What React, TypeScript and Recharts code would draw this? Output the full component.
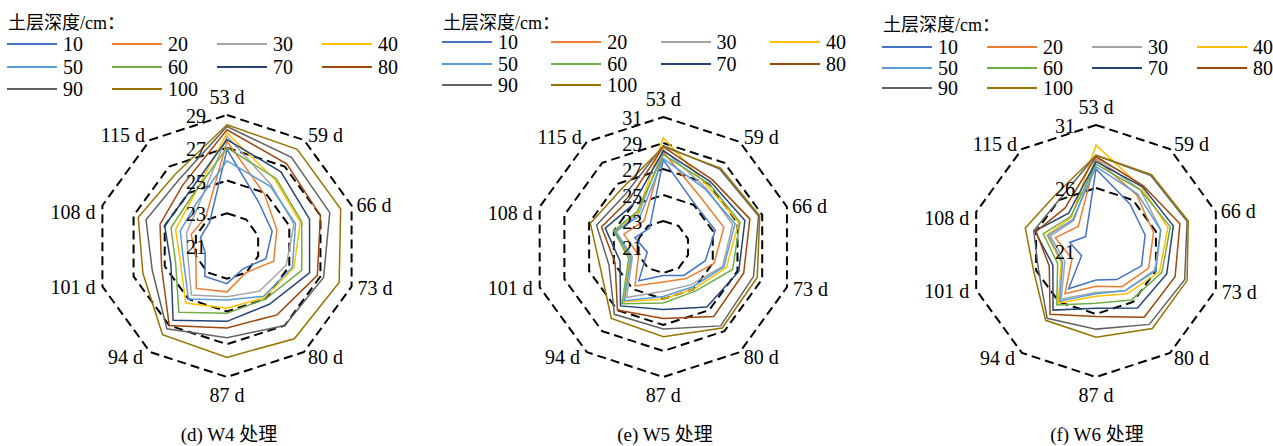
import React from 'react';
import { RadarChart, Radar, PolarGrid, PolarAngleAxis, PolarRadiusAxis } from 'recharts';

const FONT = "'Liberation Serif', 'Times New Roman', 'Noto Sans CJK SC', serif";

const days = ['53 d', '59 d', '66 d', '73 d', '80 d', '87 d', '94 d', '101 d', '108 d', '115 d'];
const depths = ['10', '20', '30', '40', '50', '60', '70', '80', '90', '100'];
const colors = ['#4472C4', '#ED7D31', '#A5A5A5', '#FFC000', '#5B9BD5', '#70AD47', '#264478', '#9E480E', '#636363', '#997300'];
const legendTitle = '土层深度/cm：';

// W4 treatment, rows = depth 10..100, cols = days
const w4Values = [
  [26.9, 24.3, 23.9, 23.5, 22.7, 23.3, 23.3, 22.4, 22.7, 22.8],
  [27.4, 24.9, 24.2, 24.0, 23.0, 23.8, 24.2, 23.0, 23.3, 23.2],
  [27.7, 25.6, 25.3, 24.8, 24.4, 24.1, 24.7, 23.5, 23.6, 24.0],
  [27.9, 26.0, 25.7, 25.3, 24.9, 24.8, 25.3, 24.0, 24.3, 24.6],
  [26.2, 25.5, 25.4, 25.2, 24.8, 24.3, 25.0, 23.8, 24.0, 24.2],
  [27.0, 26.1, 25.8, 25.8, 25.0, 25.1, 26.0, 24.3, 24.6, 24.7],
  [27.5, 26.6, 26.3, 26.3, 25.4, 25.6, 26.6, 24.6, 25.0, 25.0],
  [28.1, 27.2, 27.0, 26.8, 26.2, 26.0, 27.0, 25.2, 25.3, 25.6],
  [28.3, 27.7, 27.6, 27.2, 27.0, 26.6, 27.25, 25.8, 26.2, 26.0],
  [28.4, 28.3, 28.3, 28.2, 28.0, 27.8, 27.7, 26.4, 26.7, 26.4],
];

// W5 treatment
const w5Values = [
  [27.7, 25.1, 25.2, 24.4, 23.7, 23.2, 24.2, 22.3, 23.3, 22.8],
  [28.3, 25.8, 25.9, 25.1, 24.0, 23.7, 24.7, 23.0, 24.2, 23.5],
  [28.5, 26.6, 26.6, 25.8, 24.6, 24.4, 25.8, 23.5, 24.8, 24.2],
  [29.4, 26.8, 27.1, 26.1, 25.0, 25.0, 26.2, 23.7, 25.0, 24.3],
  [27.8, 26.5, 26.8, 25.9, 24.8, 24.8, 26.1, 23.6, 24.9, 24.0],
  [28.1, 27.0, 27.2, 26.6, 25.2, 25.3, 26.4, 23.8, 25.0, 24.4],
  [28.4, 27.2, 27.6, 27.1, 26.7, 25.8, 26.6, 24.5, 25.7, 25.0],
  [28.7, 27.4, 28.0, 27.5, 27.6, 26.5, 27.0, 24.9, 26.0, 25.5],
  [28.8, 28.4, 28.7, 28.3, 28.5, 27.3, 27.4, 25.4, 26.4, 26.0],
  [28.7, 28.5, 28.8, 28.6, 28.7, 27.9, 27.8, 26.1, 26.9, 26.5],
];

// W6 treatment
const w6Values = [
  [27.5, 25.6, 25.1, 24.8, 23.8, 23.3, 24.7, 22.2, 23.2, 22.4],
  [28.3, 26.5, 25.8, 25.4, 24.5, 23.8, 25.2, 23.0, 24.4, 23.4],
  [28.4, 27.0, 26.4, 25.9, 24.9, 24.3, 25.7, 23.6, 24.8, 24.0],
  [29.4, 27.2, 27.0, 26.3, 25.2, 24.6, 26.1, 23.9, 25.1, 24.3],
  [27.7, 26.6, 26.4, 26.0, 24.9, 24.4, 25.9, 23.8, 25.0, 24.1],
  [27.9, 27.0, 27.2, 26.5, 25.8, 25.15, 26.3, 24.2, 25.4, 24.4],
  [28.1, 27.3, 27.45, 26.9, 26.6, 25.55, 26.8, 24.6, 26.1, 24.7],
  [28.5, 27.4, 28.0, 27.6, 27.5, 26.2, 27.2, 24.9, 26.0, 25.2],
  [28.6, 28.4, 28.6, 28.4, 28.2, 27.2, 27.6, 25.8, 26.2, 26.0],
  [28.6, 28.5, 28.7, 28.6, 28.6, 27.85, 27.8, 26.2, 26.9, 26.5],
];

const captions = ['(d) W4 处理', '(e) W5 处理', '(f) W6 处理'];

function buildData(values: number[][]) {
  return days.map((day, i) => {
    const row: Record<string, any> = { day };
    depths.forEach((dep, j) => {
      row['d' + dep] = values[j][i];
    });
    return row;
  });
}

// label placement relative to each outer vertex
const LABEL_POS = [
  { dx: 0, dy: -18, anchor: 'middle' },
  { dx: 4, dy: -5, anchor: 'start' },
  { dx: 5, dy: -1, anchor: 'start' },
  { dx: 6, dy: 2, anchor: 'start' },
  { dx: 4, dy: 5, anchor: 'start' },
  { dx: 0, dy: 18, anchor: 'middle' },
  { dx: -7, dy: 5, anchor: 'end' },
  { dx: -7, dy: 1, anchor: 'end' },
  { dx: -7, dy: 6, anchor: 'end' },
  { dx: -5, dy: -5, anchor: 'end' },
];

const makeAngleTick = (cx: number, cy: number, R: number) => (props: any) => {
  const { payload, index } = props;
  const idx = typeof index === 'number' ? index : days.indexOf(payload.value);
  const angDeg = typeof payload.coordinate === 'number' ? payload.coordinate : 90 - idx * 36;
  const a = (angDeg * Math.PI) / 180;
  const vx = cx + R * Math.cos(a);
  const vy = cy - R * Math.sin(a);
  const o = LABEL_POS[idx] || LABEL_POS[0];
  return (
    <text
      x={vx + o.dx}
      y={vy + o.dy}
      textAnchor={o.anchor as any}
      dominantBaseline="central"
      fontSize={20}
      fontFamily={FONT}
      fill="#000"
    >
      {payload.value}
    </text>
  );
};

const RadiusTick = (props: any) => {
  const { x, y, payload } = props;
  return (
    <text x={x - 21} y={y + 1} textAnchor="end" dominantBaseline="central" fontSize={20} fontFamily={FONT} fill="#000">
      {payload.value}
    </text>
  );
};

type ChartSpec = {
  left: number;
  cx: number;
  cy: number;
  R: number;
  domain: [number, number];
  tickCount: number;
  values: number[][];
  caption: string;
  captionX: number;
  legend: { x: number; pitch: number; rows: number[]; titleY: number };
};

const CHART_W = 425;

const charts: ChartSpec[] = [
  {
    left: 0, cx: 227, cy: 246, R: 131, domain: [21, 29], tickCount: 5, values: w4Values,
    caption: captions[0], captionX: 229,
    legend: { x: 7, pitch: 105, rows: [44, 66.5, 89], titleY: 23 },
  },
  {
    left: 424, cx: 239.3, cy: 247, R: 130, domain: [21, 31], tickCount: 6, values: w5Values,
    caption: captions[1], captionX: 665,
    legend: { x: 442, pitch: 109.3, rows: [42, 63.5, 85], titleY: 23 },
  },
  {
    left: 848, cx: 248, cy: 251, R: 126, domain: [21, 31], tickCount: 3, values: w6Values,
    caption: captions[2], captionX: 1097,
    legend: { x: 882, pitch: 105, rows: [47, 67.5, 88], titleY: 25 },
  },
];

function LegendBlock({ spec }: { spec: ChartSpec }) {
  const { x, pitch, rows, titleY } = spec.legend;
  return (
    <>
      <div
        style={{
          position: 'absolute', left: x + 1, top: titleY - 12, height: 24, lineHeight: '24px',
          fontSize: 18, fontFamily: FONT, color: '#000', whiteSpace: 'nowrap',
        }}
      >
        {legendTitle}
      </div>
      {depths.map((dep, i) => {
        const col = i % 4;
        const row = Math.floor(i / 4);
        const lx = x + col * pitch;
        const ly = rows[row];
        return (
          <React.Fragment key={dep}>
            <div style={{ position: 'absolute', left: lx, top: ly - 1, width: 50, height: 2, background: colors[i] }} />
            <div
              style={{
                position: 'absolute', left: lx + 56, top: ly - 12, height: 24, lineHeight: '24px',
                fontSize: 20, fontFamily: FONT, color: '#000', whiteSpace: 'nowrap',
              }}
            >
              {dep}
            </div>
          </React.Fragment>
        );
      })}
    </>
  );
}

function OneRadar({ spec }: { spec: ChartSpec }) {
  const data = buildData(spec.values);
  return (
    <div style={{ position: 'absolute', left: spec.left, top: 0, width: CHART_W, height: 446 }}>
      <RadarChart
        width={CHART_W}
        height={446}
        data={data}
        cx={spec.cx}
        cy={spec.cy}
        outerRadius={spec.R}
        startAngle={90}
        endAngle={-270}
        margin={{ top: 0, right: 0, bottom: 0, left: 0 }}
      >
        <PolarGrid gridType="polygon" radialLines={false} stroke="#000" strokeWidth={2} strokeDasharray="9 5" />
        <PolarAngleAxis
          dataKey="day"
          axisLine={false}
          tickLine={false}
          tick={makeAngleTick(spec.cx, spec.cy, spec.R)}
        />
        {depths.map((dep, i) => (
          <Radar
            key={dep}
            dataKey={'d' + dep}
            name={dep}
            stroke={colors[i]}
            strokeWidth={1.5}
            fill="none"
            fillOpacity={0}
            dot={false}
            isAnimationActive={false}
          />
        ))}
        <PolarRadiusAxis
          angle={90}
          type="number"
          domain={spec.domain}
          tickCount={spec.tickCount}
          allowDataOverflow
          axisLine={false}
          tickLine={false}
          tick={RadiusTick}
        />
      </RadarChart>
    </div>
  );
}

export default function App() {
  return (
    <div
      style={{
        position: 'absolute', left: 0, top: 0, width: 1273, height: 446,
        background: '#fff', overflow: 'hidden', fontFamily: FONT,
      }}
    >
      {charts.map((spec, i) => (
        <React.Fragment key={i}>
          <OneRadar spec={spec} />
          <LegendBlock spec={spec} />
          <div
            style={{
              position: 'absolute', left: spec.captionX - 100, width: 200, top: 423, height: 24,
              lineHeight: '24px', textAlign: 'center', fontSize: 19, fontFamily: FONT, color: '#000',
              whiteSpace: 'nowrap',
            }}
          >
            {spec.caption}
          </div>
        </React.Fragment>
      ))}
    </div>
  );
}
